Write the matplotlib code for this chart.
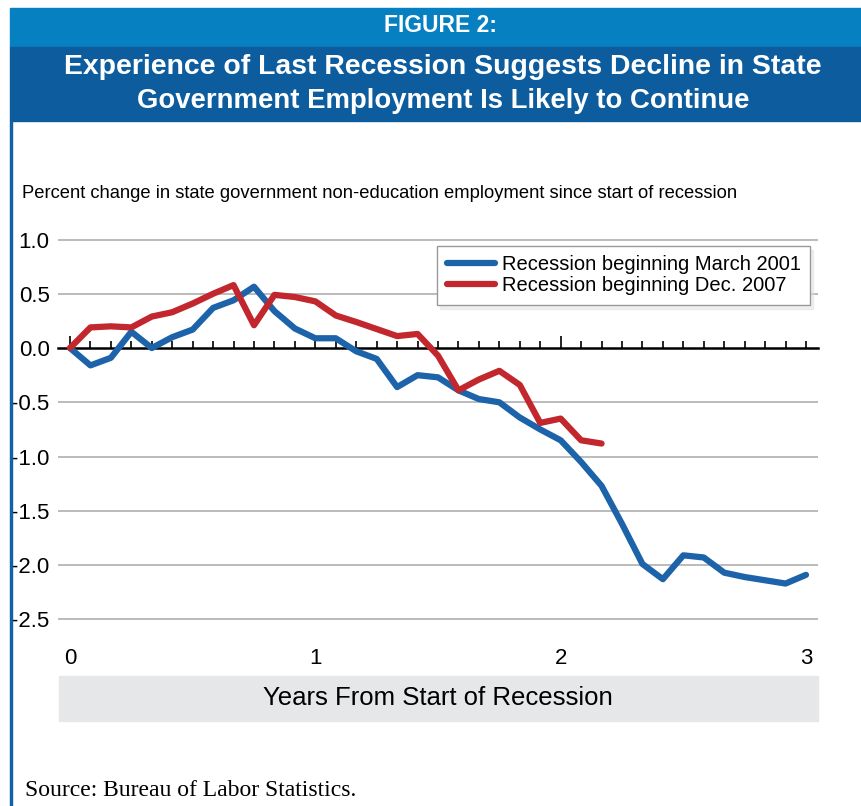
import numpy as np
import matplotlib
matplotlib.use("Agg")
import matplotlib.pyplot as plt
from matplotlib import font_manager, transforms
from matplotlib.patches import Rectangle

# Data - percent change in state government non-education employment (monthly)
months_2001 = np.arange(37)
recession_2001 = [0.0, -0.16, -0.09, 0.15, 0.0, 0.10, 0.17, 0.37, 0.44, 0.565,
                  0.34, 0.18, 0.09, 0.09, -0.03, -0.10, -0.36, -0.25, -0.27, -0.39,
                  -0.47, -0.50, -0.64, -0.75, -0.85, -1.05, -1.27, -1.62, -1.99, -2.13,
                  -1.91, -1.93, -2.07, -2.11, -2.14, -2.17, -2.09]
months_2007 = np.arange(27)
recession_2007 = [0.0, 0.19, 0.20, 0.19, 0.29, 0.33, 0.41, 0.50, 0.58, 0.21,
                  0.49, 0.47, 0.43, 0.30, 0.24, 0.175, 0.11, 0.13, -0.07, -0.39,
                  -0.29, -0.21, -0.34, -0.69, -0.65, -0.85, -0.88]
y_ticks = [1.0, 0.5, 0.0, -0.5, -1.0, -1.5, -2.0, -2.5]
y_labels = ["1.0", "0.5", "0.0", "-0.5", "-1.0", "-1.5", "-2.0", "-2.5"]
x_ticks = [0, 1, 2, 3]
series_names = ["Recession beginning March 2001", "Recession beginning Dec. 2007"]

BLUE = "#1c63a9"
RED = "#c1272d"

names = {f.name for f in font_manager.fontManager.ttflist}
NARROW = "Liberation Sans Narrow" if "Liberation Sans Narrow" in names else "Liberation Sans"

W, H = 862, 806
fx = lambda px: px / W
fy = lambda py: 1 - py / H

fig = plt.figure(figsize=(W / 100, H / 100), dpi=100)

# banner and left border
fig.patches.append(Rectangle((fx(10), fy(47)), 1, 39 / H, transform=fig.transFigure,
                             color="#0780c2", zorder=0))
fig.patches.append(Rectangle((fx(10), fy(121)), 1, 74 / H, transform=fig.transFigure,
                             color="#0d5c9e", zorder=0))
fig.patches.append(Rectangle((fx(10), 0), 2.5 / W, fy(121), transform=fig.transFigure,
                             color="#1460a6", zorder=0))
fig.text(fx(441), fy(26), "FIGURE 2:", color="white", fontsize=16.5, weight="bold",
         ha="center", va="center", family=NARROW)
fig.text(fx(443), fy(67), "Experience of Last Recession Suggests Decline in State",
         color="white", fontsize=20.4, weight="bold", ha="center", va="center", family=NARROW)
fig.text(fx(443), fy(101), "Government Employment Is Likely to Continue",
         color="white", fontsize=19.8, weight="bold", ha="center", va="center", family=NARROW)

fig.text(fx(22), fy(193),
         "Percent change in state government non-education employment since start of recession",
         fontsize=13.2, ha="left", va="center", family=NARROW)

# x label box
fig.patches.append(Rectangle((fx(59), fy(721)), (818 - 59) / W, 45 / H,
                             transform=fig.transFigure, color="#e6e7e8", zorder=0))
fig.text(fx(438), fy(698), "Years From Start of Recession", fontsize=18.5,
         ha="center", va="center", family=NARROW)

fig.text(fx(25), fy(790), "Source: Bureau of Labor Statistics.", fontsize=17,
         family="Liberation Serif", ha="left", va="center")

# chart
px_per_year = (806 - 70) / 3
ax = fig.add_axes([fx(58), fy(630.2), (818 - 58) / W, (630.2 - 225.4) / H])
ax.set_xlim(-12 / px_per_year, 3 + 12 / px_per_year)
ax.set_ylim(-2.6, 1.13)

for v in y_ticks:
    if v != 0:
        ax.axhline(v, color="#b5b5b5", lw=1.3, zorder=1)

ax.plot(months_2001 / 12, recession_2001, color=BLUE, lw=4.5, label=series_names[0],
        solid_capstyle="round", solid_joinstyle="round", zorder=3)
ax.plot(months_2007 / 12, recession_2007, color=RED, lw=4.5, label=series_names[1],
        solid_capstyle="round", solid_joinstyle="round", zorder=3)

for s in ["top", "right", "left"]:
    ax.spines[s].set_visible(False)
ax.spines["bottom"].set_position(("data", 0))
ax.spines["bottom"].set_linewidth(1.8)
ax.spines["bottom"].set_zorder(2)
ax.set_xticks([0, 1, 2])
ax.set_xticks(months_2001 / 12, minor=True)
ax.tick_params(axis="x", which="major", direction="in", length=9, width=1.2,
               labelbottom=False)
ax.tick_params(axis="x", which="minor", direction="in", length=5, width=1.2)

ax.set_yticks(y_ticks)
ax.set_yticklabels(y_labels, family=NARROW, fontsize=16)
ax.tick_params(axis="y", length=0, pad=6)

xlab_tr = transforms.blended_transform_factory(ax.transData, fig.transFigure)
for xt in x_ticks:
    ax.text(xt, fy(658), str(xt), transform=xlab_tr, fontsize=16,
            ha="center", va="center", family=NARROW)

leg = ax.legend(loc="upper right", bbox_to_anchor=(fx(810), fy(246)),
                bbox_transform=fig.transFigure, borderaxespad=0, frameon=True,
                fancybox=False, edgecolor="#999999", framealpha=1,
                handlelength=2.4, handletextpad=0.35, borderpad=0.45, labelspacing=0.12,
                prop=dict(family="Liberation Sans", size=14.5),
                shadow=dict(ox=2, oy=-3, shade=0.12))
leg.get_frame().set_linewidth(1)

fig.savefig("out.png", dpi=100)
